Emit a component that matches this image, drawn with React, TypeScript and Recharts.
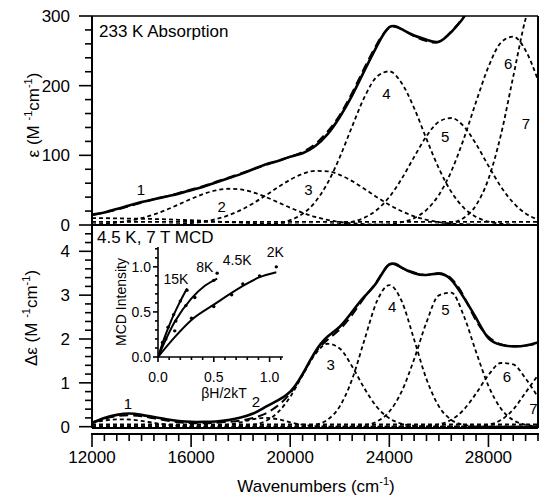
import React from "react";
import {
  LineChart,
  ComposedChart,
  Line,
  Scatter,
  XAxis,
  YAxis,
  ReferenceLine,
  ReferenceDot,
} from "recharts";

const FONT = '"Liberation Sans", Arial, Helvetica, sans-serif';
const INK = "#000";

// ---- shared x grid (cm-1) ----
const wavenumbers = [
  12000, 12500, 13000, 13500, 14000, 14500, 15000, 15500, 16000, 16500, 17000, 17500,
  18000, 18500, 19000, 19500, 20000, 20500, 21000, 21500, 22000, 22500, 23000, 23500,
  24000, 24500, 25000, 25500, 26000, 26500, 27000, 27500, 28000, 28500, 29000, 29500, 30000,
];

// ---- 233 K absorption (M-1 cm-1) ----
const absExp = [15, 18, 23, 28, 33, 37, 41, 45, 50, 55, 61, 67, 73, 80, 87, 92, 98, 103, 113, 130, 155, 186, 222, 257, 284, 281, 272, 266, 263, 277, 298, 330, null, null, null, null, null];
const absFit = [14, 18, 22, 27, 32, 37, 41, 46, 51, 56, 62, 68, 74, 80, 86, 92, 98, 105, 116, 134, 158, 190, 226, 260, 283, 281, 271, 264, 263, 278, 300, 335, null, null, null, null, null];
const absBand1 = [10, 9.8, 9.5, 9.2, 9, 8.6, 8.2, 7.5, 6.8, 6, 5, 4.2, 3.4, 2.6, 2, 1.4, 1, 0.6, 0.3, 0.1, 0, 0, 0, 0, 0, 0, 0, 0, 0, 0, 0, 0, 0, 0, 0, 0, 0];
const absBand2 = [0.9, 1.8, 3.4, 6, 9.8, 15.1, 21.8, 29.5, 37.4, 44.5, 49.7, 52, 51, 46.9, 40.4, 32.7, 24.8, 17.6, 11.7, 7.3, 4.3, 2.4, 1.2, 0.6, 0.3, 0.1, 0, 0, 0, 0, 0, 0, 0, 0, 0, 0, 0];
const absBand3 = [0, 0, 0, 0, 0, 0, 0.6, 1.3, 2.6, 4.8, 8.4, 13.8, 21.3, 31, 42.3, 54.1, 65, 73.3, 77.6, 77.1, 71.9, 63, 51.8, 39.9, 28.9, 19.7, 12.5, 7.5, 4.2, 2.2, 1.1, 0.5, 0.2, 0, 0, 0, 0];
const absBand4 = [0, 0, 0, 0, 0, 0, 0, 0, 0, 0, 0, 0, 0, 0.3, 0.9, 2.7, 7, 16, 32.7, 59.7, 97.3, 141.6, 183.9, 213, 220.5, 203.6, 167.9, 123.5, 81.1, 47.6, 24.9, 11.6, 4.8, 1.8, 0.6, 0.2, 0];
const absBand5 = [0, 0, 0, 0, 0, 0, 0, 0, 0, 0, 0, 0, 0, 0, 0, 0, 0, 0, 0, 0.6, 1.7, 4.5, 10.5, 21.8, 40.3, 66.5, 97.6, 127.5, 148.3, 153.6, 141.7, 116.2, 84.9, 55.2, 32, 16.5, 7.6];
const absBand6 = [0, 0, 0, 0, 0, 0, 0, 0, 0, 0, 0, 0, 0, 0, 0, 0, 0, 0, 0, 0, 0, 0, 0, 0.5, 1.4, 4, 9.8, 21.7, 43.2, 77, 123.2, 176.7, 227.1, 261.7, 270.4, 250.5, 208];
const absBand7 = [0, 0, 0, 0, 0, 0, 0, 0, 0, 0, 0, 0, 0, 0, 0, 0, 0, 0, 0, 0, 0, 0, 0, 0, 0, 0, 0, 0.2, 0.8, 3.1, 10.2, 28.4, 66, 129, 213, 296, 345];
const absBaseline = [
  { wn: 12000, v: 4.5 },
  { wn: 30000, v: 4.5 },
];

// ---- 4.5 K, 7 T MCD (M-1 cm-1) ----
const mcdExp = [0.08, 0.2, 0.27, 0.3, 0.27, 0.22, 0.17, 0.13, 0.11, 0.11, 0.12, 0.15, 0.21, 0.3, 0.45, 0.6, 0.8, 1.2, 1.7, 2.05, 2.28, 2.62, 2.97, 3.3, 3.7, 3.63, 3.5, 3.46, 3.49, 3.35, 2.95, 2.48, 2.02, 1.87, 1.83, 1.85, 1.92];
const mcdFit = [0.1, 0.18, 0.24, 0.26, 0.24, 0.19, 0.14, 0.1, 0.08, 0.08, 0.09, 0.11, 0.14, 0.2, 0.3, 0.48, 0.76, 1.2, 1.68, 1.98, 2.22, 2.55, 2.95, 3.32, 3.7, 3.62, 3.52, 3.46, 3.5, 3.38, 2.98, 2.42, 2.05, 1.88, 1.84, 1.85, 1.9];
const mcdBand1 = [0.096, 0.14, 0.167, 0.164, 0.132, 0.087, 0.047, 0.02, 0.007, 0.002, 0, 0, 0, 0, 0, 0, 0, 0, 0, 0, 0, 0, 0, 0, 0, 0, 0, 0, 0, 0, 0, 0, 0, 0, 0, 0, 0];
const mcdBand2 = [0, 0, 0, 0, 0, 0, 0, 0, 0, 0.003, 0.014, 0.045, 0.1, 0.17, 0.2, 0.17, 0.1, 0.045, 0.014, 0.003, 0, 0, 0, 0, 0, 0, 0, 0, 0, 0, 0, 0, 0, 0, 0, 0, 0];
const mcdBand3 = [0, 0, 0, 0, 0, 0, 0, 0, 0, 0, 0, 0, 0.011, 0.041, 0.127, 0.326, 0.682, 1.171, 1.645, 1.892, 1.782, 1.374, 0.868, 0.448, 0.19, 0.066, 0.019, 0.004, 0, 0, 0, 0, 0, 0, 0, 0, 0];
const mcdBand4 = [0, 0, 0, 0, 0, 0, 0, 0, 0, 0, 0, 0, 0, 0, 0, 0, 0.001, 0.008, 0.041, 0.155, 0.463, 1.084, 1.988, 2.861, 3.23, 2.861, 1.988, 1.084, 0.463, 0.155, 0.041, 0.008, 0.001, 0, 0, 0, 0];
const mcdBand5 = [0, 0, 0, 0, 0, 0, 0, 0, 0, 0, 0, 0, 0, 0, 0, 0, 0, 0, 0, 0, 0, 0.008, 0.033, 0.119, 0.343, 0.806, 1.538, 2.382, 2.996, 3.059, 2.536, 1.707, 0.933, 0.414, 0.149, 0.044, 0.01];
const mcdBand6 = [0, 0, 0, 0, 0, 0, 0, 0, 0, 0, 0, 0, 0, 0, 0, 0, 0, 0, 0, 0, 0, 0, 0, 0, 0, 0, 0.003, 0.013, 0.05, 0.156, 0.386, 0.757, 1.178, 1.453, 1.419, 1.099, 0.675];
const mcdBand7 = [0, 0, 0, 0, 0, 0, 0, 0, 0, 0, 0, 0, 0, 0, 0, 0, 0, 0, 0, 0, 0, 0, 0, 0, 0, 0, 0, 0, 0, 0, 0.002, 0.01, 0.044, 0.15, 0.392, 0.779, 1.177];
const mcdBaseline = [
  { wn: 12000, v: 0.05 },
  { wn: 30000, v: 0.05 },
];

// band number annotations (data coords)
const bandNames = ["1", "2", "3", "4", "5", "6", "7"];
const absLabelWn = [13973, 17235, 20738, 23880, 26255, 28793, 29517];
const absLabelVal = [50, 27, 50, 188, 127, 232, 146];
const mcdLabelWn = [13450, 18620, 21630, 24115, 26260, 28750, 29820];
const mcdLabelVal = [0.53, 0.57, 1.41, 2.74, 2.66, 1.14, 0.42];

// ---- inset: saturation magnetization ----
const k15Beta = [0, 0.06, 0.12, 0.18, 0.26];
const k15Int = [0, 0.22, 0.41, 0.57, 0.76];
const k8Beta = [0, 0.15, 0.3, 0.42, 0.53];
const k8Int = [0, 0.39, 0.65, 0.79, 0.87];
const k2Beta = [0, 0.15, 0.3, 0.5, 0.75, 0.9, 1.06];
const k2Int = [0, 0.22, 0.41, 0.58, 0.78, 0.88, 0.94];
const dots15Beta = [0.04, 0.09, 0.14, 0.2, 0.26];
const dots15Int = [0.16, 0.33, 0.47, 0.62, 0.74];
const dots8Beta = [0.07, 0.16, 0.25, 0.33, 0.5, 0.53];
const dots8Int = [0.2, 0.4, 0.57, 0.66, 0.85, 0.93];
const dots2Beta = [0.15, 0.3, 0.5, 0.66, 0.76, 0.91, 1.06];
const dots2Int = [0.29, 0.43, 0.56, 0.69, 0.81, 0.9, 1.0];
const tempNames = ["15K", "8K", "4.5K", "2K"];
const tempLabelBeta = [0.16, 0.42, 0.71, 1.05];
const tempLabelInt = [0.87, 1.0, 1.08, 1.16];

// ---- axis ticks ----
const absYTicks = [0, 20, 40, 60, 80, 100, 120, 140, 160, 180, 200, 220, 240, 260, 280, 300];
const absYMajor = [0, 100, 200, 300];
const mcdYTicks = [0, 0.2, 0.4, 0.6, 0.8, 1, 1.2, 1.4, 1.6, 1.8, 2, 2.2, 2.4, 2.6, 2.8, 3, 3.2, 3.4, 3.6, 3.8, 4, 4.2, 4.4];
const mcdYMajor = [0, 1, 2, 3, 4];
const wnMajor = [12000, 16000, 20000, 24000, 28000];
const insetTicks = [0, 0.1, 0.2, 0.3, 0.4, 0.5, 0.6, 0.7, 0.8, 0.9, 1, 1.1, 1.2];
const insetXTicks = [0, 0.1, 0.2, 0.3, 0.4, 0.5, 0.6, 0.7, 0.8, 0.9, 1, 1.1];
const insetMajor = [0, 0.5, 1];

const PLOT_W = 446;

const absRows = wavenumbers.map((wn, i) => ({
  wn,
  exp: absExp[i],
  fit: absFit[i],
  g1: absBand1[i],
  g2: absBand2[i],
  g3: absBand3[i],
  g4: absBand4[i],
  g5: absBand5[i],
  g6: absBand6[i],
  g7: absBand7[i],
}));

const mcdRows = wavenumbers.map((wn, i) => ({
  wn,
  exp: mcdExp[i],
  fit: mcdFit[i],
  g1: mcdBand1[i],
  g2: mcdBand2[i],
  g3: mcdBand3[i],
  g4: mcdBand4[i],
  g5: mcdBand5[i],
  g6: mcdBand6[i],
  g7: mcdBand7[i],
}));

const pairs = (xs: number[], ys: number[]) => xs.map((b, i) => ({ b, m: ys[i] }));

function leftTick(majors: number[], fmt: (v: number) => string, big: number, small: number, gap: number, fs: number) {
  return (props: any) => {
    const { x, y, payload } = props;
    const v = payload.value;
    const isMajor = majors.includes(v);
    return (
      <g>
        <line x1={x} x2={x - (isMajor ? big : small)} y1={y} y2={y} stroke={INK} strokeWidth={1.6} />
        {isMajor && (
          <text x={x - gap} y={y} dy="0.36em" textAnchor="end" fontSize={fs} fill={INK}>
            {fmt(v)}
          </text>
        )}
      </g>
    );
  };
}

function bottomTick(majors: number[], fmt: (v: number) => string, off: number, big: number, small: number, labelDy: number, fs: number, lineLen: number) {
  return (props: any) => {
    const { x, y, payload, index } = props;
    const v = payload.value;
    const isMajor = majors.includes(v);
    const top = y + off;
    return (
      <g>
        {lineLen > 0 && index === 0 && (
          <line x1={x - 1} x2={x + lineLen + 1} y1={top} y2={top} stroke={INK} strokeWidth={2} />
        )}
        <line x1={x} x2={x} y1={top} y2={top + (isMajor ? big : small)} stroke={INK} strokeWidth={1.6} />
        {isMajor && (
          <text x={x} y={y + labelDy} textAnchor="middle" fontSize={fs} fill={INK}>
            {fmt(v)}
          </text>
        )}
      </g>
    );
  };
}

const gauss = { stroke: INK, strokeWidth: 1.8, strokeDasharray: "4 3" };

function bandLines() {
  return ["g1", "g2", "g3", "g4", "g5", "g6", "g7"].map((k) => (
    <Line
      key={k}
      type="monotone"
      dataKey={k}
      {...gauss}
      dot={false}
      activeDot={false}
      isAnimationActive={false}
    />
  ));
}

function bandLabels(wns: number[], vals: number[]) {
  return bandNames.map((t, i) => (
    <ReferenceDot
      key={t}
      x={wns[i]}
      y={vals[i]}
      r={0}
      fill="none"
      stroke="none"
      label={{ value: t, position: "center", fontSize: 15, fill: INK }}
    />
  ));
}

const dotShape = (p: any) => <circle cx={p.cx} cy={p.cy} r={1.7} fill={INK} />;

export default function App() {
  return (
    <div
      style={{
        position: "absolute",
        left: 0,
        top: 0,
        width: 540,
        height: 497,
        background: "#fff",
        fontFamily: FONT,
      }}
    >
      {/* top: absorption */}
      <div style={{ position: "absolute", left: 0, top: 0 }}>
        <LineChart width={540} height={240} data={absRows} margin={{ top: 16, right: 2, bottom: 15, left: 0 }}>
          <XAxis type="number" dataKey="wn" domain={[12000, 30000]} hide />
          <YAxis
            type="number"
            domain={[0, 300]}
            ticks={absYTicks}
            interval={0}
            width={92}
            allowDataOverflow
            tickLine={false}
            tickSize={0}
            tickMargin={0}
            axisLine={{ stroke: INK, strokeWidth: 2 }}
            tick={leftTick(absYMajor, (v) => String(v), 13, 7, 22, 17)}
          />
          <ReferenceLine y={300} stroke={INK} strokeWidth={1.6} />
          <ReferenceLine y={0} stroke={INK} strokeWidth={2} />
          <ReferenceLine x={30000} stroke={INK} strokeWidth={2} />
          <Line data={absBaseline} dataKey="v" {...gauss} dot={false} activeDot={false} isAnimationActive={false} />
          {bandLines()}
          <Line type="natural" dataKey="fit" stroke={INK} strokeWidth={2} strokeDasharray="9 5" dot={false} activeDot={false} isAnimationActive={false} />
          <Line type="natural" dataKey="exp" stroke={INK} strokeWidth={2.6} dot={false} activeDot={false} isAnimationActive={false} />
          {bandLabels(absLabelWn, absLabelVal)}
        </LineChart>
      </div>

      {/* bottom: MCD */}
      <div style={{ position: "absolute", left: 0, top: 200 }}>
        <LineChart width={540} height={297} data={mcdRows} margin={{ top: 25, right: 2, bottom: 0, left: 0 }}>
          <XAxis
            type="number"
            dataKey="wn"
            domain={[12000, 30000]}
            ticks={wavenumbers}
            interval={0}
            height={69}
            axisLine={false}
            tickLine={false}
            tickSize={0}
            tickMargin={0}
            tick={bottomTick(wnMajor, (v) => String(v), 6, 13, 7, 35, 17, PLOT_W)}
          />
          <YAxis
            type="number"
            domain={[-0.03, 4.6]}
            ticks={mcdYTicks}
            interval={0}
            width={92}
            allowDataOverflow
            tickLine={false}
            tickSize={0}
            tickMargin={0}
            axisLine={{ stroke: INK, strokeWidth: 2 }}
            tick={leftTick(mcdYMajor, (v) => String(v), 13, 7, 22, 17)}
          />
          <ReferenceLine y={-0.03} stroke={INK} strokeWidth={2} />
          <ReferenceLine x={30000} stroke={INK} strokeWidth={2} />
          <Line data={mcdBaseline} dataKey="v" {...gauss} dot={false} activeDot={false} isAnimationActive={false} />
          {bandLines()}
          <Line type="natural" dataKey="fit" stroke={INK} strokeWidth={2} strokeDasharray="9 5" dot={false} activeDot={false} isAnimationActive={false} />
          <Line type="natural" dataKey="exp" stroke={INK} strokeWidth={2.6} dot={false} activeDot={false} isAnimationActive={false} />
          {bandLabels(mcdLabelWn, mcdLabelVal)}
        </LineChart>
      </div>

      {/* inset: MCD intensity vs βH/2kT */}
      <div style={{ position: "absolute", left: 100, top: 240 }}>
        <ComposedChart width={190} height={162} margin={{ top: 7, right: 7, bottom: 0, left: 0 }}>
          <XAxis
            type="number"
            dataKey="b"
            domain={[0, 1.12]}
            ticks={insetXTicks}
            interval={0}
            height={45}
            allowDataOverflow
            tickLine={false}
            tickSize={0}
            tickMargin={0}
            axisLine={{ stroke: INK, strokeWidth: 1.6 }}
            tick={bottomTick(insetMajor, (v) => v.toFixed(1), 0, 5, 3, 25, 14, 0)}
          />
          <YAxis
            type="number"
            domain={[0, 1.22]}
            ticks={insetTicks}
            interval={0}
            width={58}
            allowDataOverflow
            tickLine={false}
            tickSize={0}
            tickMargin={0}
            axisLine={{ stroke: INK, strokeWidth: 1.6 }}
            tick={leftTick(insetMajor, (v) => v.toFixed(1), 5, 3, 7, 14)}
          />
          <Line data={pairs(k15Beta, k15Int)} dataKey="m" type="monotone" stroke={INK} strokeWidth={2} dot={false} activeDot={false} isAnimationActive={false} />
          <Line data={pairs(k8Beta, k8Int)} dataKey="m" type="monotone" stroke={INK} strokeWidth={2} dot={false} activeDot={false} isAnimationActive={false} />
          <Line data={pairs(k2Beta, k2Int)} dataKey="m" type="monotone" stroke={INK} strokeWidth={2} dot={false} activeDot={false} isAnimationActive={false} />
          <Scatter data={pairs(dots15Beta, dots15Int)} dataKey="m" shape={dotShape} isAnimationActive={false} />
          <Scatter data={pairs(dots8Beta, dots8Int)} dataKey="m" shape={dotShape} isAnimationActive={false} />
          <Scatter data={pairs(dots2Beta, dots2Int)} dataKey="m" shape={dotShape} isAnimationActive={false} />
          {tempNames.map((t, i) => (
            <ReferenceDot
              key={t}
              x={tempLabelBeta[i]}
              y={tempLabelInt[i]}
              r={0}
              fill="none"
              stroke="none"
              label={{ value: t, position: "center", fontSize: 14, fill: INK }}
            />
          ))}
        </ComposedChart>
      </div>

      {/* titles */}
      <svg
        width={540}
        height={497}
        style={{ position: "absolute", left: 0, top: 0, pointerEvents: "none" }}
        fontFamily={FONT}
        fill={INK}
      >
        <text x={99} y={37} fontSize={17}>233 K Absorption</text>
        <text x={97} y={243} fontSize={17}>4.5 K, 7 T MCD</text>
        <text x={316} y={492} fontSize={17} textAnchor="middle">
          Wavenumbers (cm<tspan dy={-7} fontSize={11}>-1</tspan>
          <tspan dy={7}>)</tspan>
        </text>
        <text transform="rotate(-90)" x={-115} y={39} fontSize={17} textAnchor="middle">
          ε (M <tspan dy={-7} fontSize={11}>-1</tspan>
          <tspan dy={7}>cm</tspan>
          <tspan dy={-7} fontSize={11}>-1</tspan>
          <tspan dy={7}>)</tspan>
        </text>
        <text transform="rotate(-90)" x={-318} y={37} fontSize={17} textAnchor="middle">
          Δε (M <tspan dy={-7} fontSize={11}>-1</tspan>
          <tspan dy={7}>cm</tspan>
          <tspan dy={-7} fontSize={11}>-1</tspan>
          <tspan dy={7}>)</tspan>
        </text>
        <text x={224} y={398} fontSize={14} textAnchor="middle">βH/2kT</text>
        <text transform="rotate(-90)" x={-302} y={126} fontSize={14} textAnchor="middle">MCD Intensity</text>
      </svg>
    </div>
  );
}
